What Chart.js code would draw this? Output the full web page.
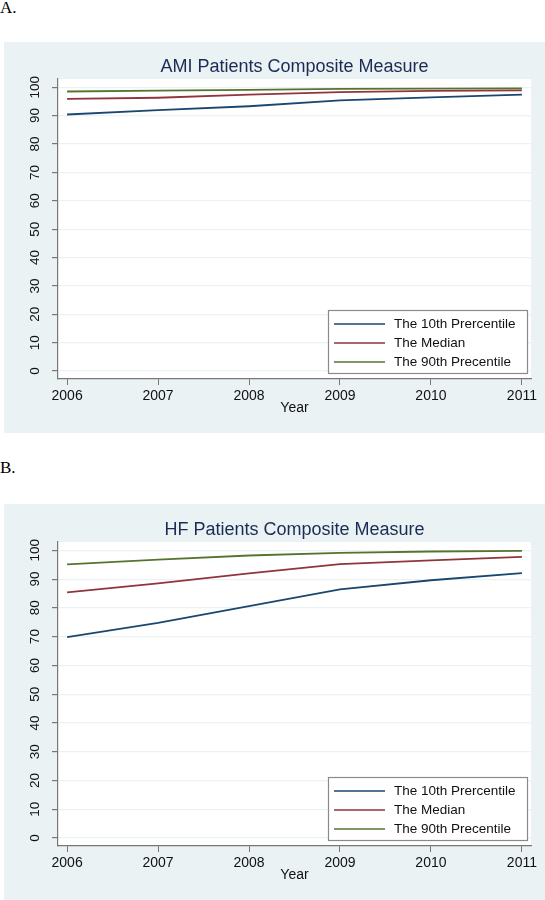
<!DOCTYPE html>
<html>
<head>
<meta charset="utf-8">
<script src="https://cdn.jsdelivr.net/npm/chart.js@4.4.1/dist/chart.umd.min.js"></script>
<style>
  body { margin: 0; background: #fff; width: 545px; height: 900px; position: relative; overflow: hidden; }
  .tag { position: absolute; left: 0; font: 17px "Liberation Serif", "DejaVu Serif", serif; color: #000; }
  .panel { position: absolute; left: 4px; width: 541px; background: #eaf2f3; }
</style>
</head>
<body>
<div class="tag" style="top:-2px">A.</div>
<div class="panel" style="top:42px;height:391px"><canvas id="amiChart" width="541" height="391"></canvas></div>
<div class="tag" style="top:458px">B.</div>
<div class="panel" style="top:504px;height:396px"><canvas id="hfChart" width="541" height="396"></canvas></div>
<script>
// data
const years = [2006, 2007, 2008, 2009, 2010, 2011];
const yTicks = [0, 10, 20, 30, 40, 50, 60, 70, 80, 90, 100];
const seriesNames = ['The 10th Prercentile', 'The Median', 'The 90th Precentile'];

const ami10 = [90.4, 91.9, 93.3, 95.4, 96.4, 97.4];
const amiMed = [95.9, 96.3, 97.4, 98.3, 98.7, 98.9];
const ami90 = [98.5, 98.8, 99.1, 99.4, 99.5, 99.6];

const hf10 = [69.8, 74.8, 80.6, 86.4, 89.6, 92.1];
const hfMed = [85.4, 88.5, 92.0, 95.2, 96.5, 97.7];
const hf90 = [95.1, 96.8, 98.2, 99.1, 99.6, 99.8];

const colors = ['#1a476f', '#90353b', '#55752f'];
const FONT = '"Liberation Sans", Arial, sans-serif';

// white plot area, title, rotated y labels and legend
const decor = {
    id: 'decor',
    beforeDraw: (chart) => {
        const ctx = chart.ctx;
        const a = chart.chartArea;
        ctx.save();
        ctx.fillStyle = '#ffffff';
        ctx.fillRect(a.left, a.top, a.right - a.left, a.bottom - a.top);
        ctx.restore();
    },
    afterDraw: (chart, args, opts) => {
        const ctx = chart.ctx;
        const a = chart.chartArea;
        ctx.save();

        // title
        ctx.fillStyle = '#1c2b55';
        ctx.font = '18px ' + FONT;
        ctx.textAlign = 'center';
        ctx.textBaseline = 'middle';
        ctx.fillText(opts.title, (a.left + a.right) / 2, a.top - 12);

        // y tick labels, turned
        const ys = chart.scales.y;
        ctx.fillStyle = '#111';
        ctx.font = '13.5px ' + FONT;
        yTicks.forEach(v => {
            const py = ys.getPixelForValue(v);
            ctx.save();
            ctx.translate(a.left - 23, py);
            ctx.rotate(-Math.PI / 2);
            ctx.fillText(String(v), 0, 0);
            ctx.restore();
        });

        // legend
        const w = 199, h = 63;
        const bx = a.right - 4 - w, by = a.bottom - 6 - h;
        ctx.fillStyle = '#ffffff';
        ctx.fillRect(bx, by, w, h);
        ctx.strokeStyle = '#8a8a8a';
        ctx.lineWidth = 1.2;
        ctx.strokeRect(bx + 0.5, by + 0.5, w, h);
        ctx.font = '13.5px ' + FONT;
        ctx.textAlign = 'left';
        chart.data.datasets.forEach((ds, i) => {
            const ly = by + 14 + i * 19;
            ctx.strokeStyle = ds.borderColor;
            ctx.lineWidth = 1.5;
            ctx.beginPath();
            ctx.moveTo(bx + 6, ly);
            ctx.lineTo(bx + 57, ly);
            ctx.stroke();
            ctx.fillStyle = '#111';
            ctx.fillText(ds.label, bx + 66, ly);
        });
        ctx.restore();
    }
};

function makeChart(id, title, s10, sMed, s90, pad) {
    const all = [s10, sMed, s90];
    return new Chart(document.getElementById(id), {
        type: 'line',
        data: {
            datasets: all.map((s, i) => ({
                label: seriesNames[i],
                data: years.map((yr, j) => ({ x: yr, y: s[j] })),
                borderColor: colors[i],
                borderWidth: 1.8,
                pointRadius: 0,
                tension: 0,
                fill: false
            }))
        },
        plugins: [decor],
        options: {
            responsive: false,
            animation: false,
            layout: { padding: { top: pad, right: 14, left: 0, bottom: 0 } },
            plugins: {
                legend: { display: false },
                tooltip: { enabled: false },
                decor: { title: title }
            },
            scales: {
                x: {
                    type: 'linear',
                    min: 2005.9,
                    max: 2011.1,
                    afterBuildTicks: (sc) => { sc.ticks = years.map(v => ({ value: v })); },
                    afterFit: (sc) => { sc.height = 54; },
                    ticks: {
                        color: '#111',
                        font: { family: FONT, size: 14 },
                        padding: 3,
                        maxRotation: 0,
                        callback: (v) => String(v)
                    },
                    grid: { drawOnChartArea: false, tickLength: 6, tickColor: '#777' },
                    border: { color: '#777', width: 1.2 },
                    title: {
                        display: true,
                        text: 'Year',
                        color: '#111',
                        font: { family: FONT, size: 14 },
                        padding: { top: 0, bottom: 16 }
                    }
                },
                y: {
                    min: -2.8,
                    max: 102.9,
                    afterBuildTicks: (sc) => { sc.ticks = yTicks.map(v => ({ value: v })); },
                    afterFit: (sc) => { sc.width = 54; },
                    ticks: { display: false },
                    grid: { color: '#eaf2f3', lineWidth: 1.2, tickLength: 6, tickColor: '#777' },
                    border: { color: '#777', width: 1.2 }
                }
            }
        }
    });
}

makeChart('amiChart', 'AMI Patients Composite Measure', ami10, amiMed, ami90, 37);
makeChart('hfChart', 'HF Patients Composite Measure', hf10, hfMed, hf90, 38);
</script>
</body>
</html>
